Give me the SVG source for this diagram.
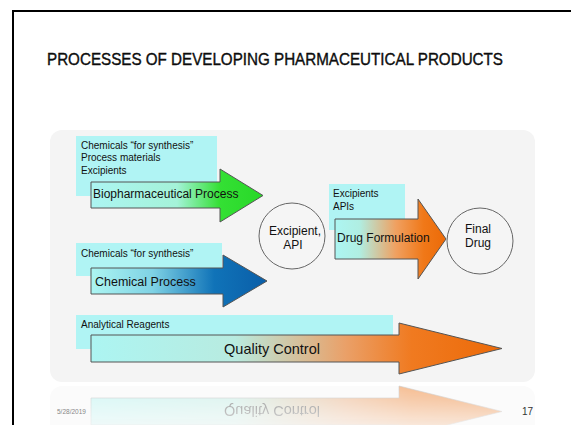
<svg xmlns="http://www.w3.org/2000/svg" width="571" height="425" viewBox="0 0 571 425">
<defs>
<style>
.t{font-family:"Liberation Sans",Arial,sans-serif;fill:#111}
.s{font-size:10px}
.m{font-size:12px}
.box{fill:#b0f4f4}
.arr{stroke:#555;stroke-width:1}
.circ{fill:#fff;fill-opacity:0.15;stroke:#666;stroke-width:1}
</style>
<linearGradient id="gGreen" gradientUnits="userSpaceOnUse" x1="91" y1="0" x2="263" y2="0">
<stop offset="0" stop-color="#acf5f2"/><stop offset="0.5" stop-color="#a4f2d8"/><stop offset="0.75" stop-color="#34e034"/><stop offset="1" stop-color="#28d828"/>
</linearGradient>
<linearGradient id="gBlue" gradientUnits="userSpaceOnUse" x1="91" y1="0" x2="267" y2="0">
<stop offset="0" stop-color="#acf5f2"/><stop offset="0.35" stop-color="#7fd2e4"/><stop offset="0.7" stop-color="#1073b8"/><stop offset="1" stop-color="#0a5ea8"/>
</linearGradient>
<linearGradient id="gOrange" gradientUnits="userSpaceOnUse" x1="335" y1="0" x2="446" y2="0">
<stop offset="0" stop-color="#acf5f2"/><stop offset="0.22" stop-color="#b0eee2"/><stop offset="0.55" stop-color="#f0a060"/><stop offset="0.8" stop-color="#f07818"/><stop offset="1" stop-color="#ec6a08"/>
</linearGradient>
<linearGradient id="gQC" gradientUnits="userSpaceOnUse" x1="91" y1="0" x2="502" y2="0">
<stop offset="0" stop-color="#acf5f2"/><stop offset="0.35" stop-color="#b8ebe0"/><stop offset="0.62" stop-color="#eaa068"/><stop offset="0.78" stop-color="#f07a20"/><stop offset="1" stop-color="#ec6a08"/>
</linearGradient>
<linearGradient id="gFade" gradientUnits="userSpaceOnUse" x1="0" y1="384" x2="0" y2="425">
<stop offset="0" stop-color="#fff" stop-opacity="0.5"/><stop offset="1" stop-color="#fff" stop-opacity="0.15"/>
</linearGradient>
<mask id="mFade" maskUnits="userSpaceOnUse" x="0" y="380" width="571" height="45">
<rect x="0" y="380" width="571" height="45" fill="url(#gFade)"/>
</mask>
</defs>
<rect width="571" height="425" fill="#fff"/>
<rect x="13" y="11" width="600" height="450" fill="none" stroke="#000" stroke-width="2"/>
<text class="t" x="47" y="65" font-size="16.5" fill="#000" stroke="#000" stroke-width="0.35" textLength="456" lengthAdjust="spacingAndGlyphs">PROCESSES OF DEVELOPING PHARMACEUTICAL PRODUCTS</text>
<rect x="50" y="130" width="485" height="252" rx="12" fill="#f4f4f4"/>
<rect x="50" y="386" width="485" height="60" rx="12" fill="#fbfbfb"/>
<g id="connectors">
<g id="bio">
<rect class="box" x="76" y="136" width="141" height="60"/>
<text class="t s" x="81" y="149">Chemicals “for synthesis”</text>
<text class="t s" x="81" y="161">Process materials</text>
<text class="t s" x="81" y="174">Excipients</text>
<path class="arr" d="M91 182H220V169L263 195.5L220 222V208H91Z" fill="url(#gGreen)"/>
<text class="t m" x="93" y="198">Biopharmaceutical Process</text>
</g>
<g id="chem">
<rect class="box" x="76" y="243" width="146" height="33"/>
<text class="t s" x="81" y="257">Chemicals “for synthesis”</text>
<path class="arr" d="M91 268H223V255L267 281L223 307V294H91Z" fill="url(#gBlue)"/>
<text class="t" x="95" y="285.5" font-size="12.5">Chemical Process</text>
</g>
<g id="form">
<rect class="box" x="329" y="184" width="76" height="46"/>
<text class="t s" x="333" y="197">Excipients</text>
<text class="t s" x="333" y="210">APIs</text>
<path class="arr" d="M335 219H418V199L446 239L418 279V259H335Z" fill="url(#gOrange)"/>
<text class="t m" x="337" y="241.5">Drug Formulation</text>
</g>
<g id="qc">
<rect class="box" x="76" y="315" width="317" height="34"/>
<text class="t s" x="81" y="328">Analytical Reagents</text>
<path class="arr" d="M91 335H399V323L502 348.5L399 374V362H91Z" fill="url(#gQC)"/>
<text class="t" x="272" y="354" font-size="14.5" text-anchor="middle">Quality Control</text>
</g>
</g>
<g id="api">
<circle class="circ" cx="292" cy="236" r="33"/>
<text class="t m" x="295" y="235" text-anchor="middle">Excipient,</text>
<text class="t m" x="293" y="248.5" text-anchor="middle">API</text>
</g>
<g id="final">
<circle class="circ" cx="480" cy="241" r="33"/>
<text class="t m" x="478" y="233" text-anchor="middle">Final</text>
<text class="t m" x="478" y="247" text-anchor="middle">Drug</text>
</g>
<g id="reflection" mask="url(#mFade)">
<g transform="translate(0,760) scale(1,-1)">
<path d="M91 335H399V323L502 348.5L399 374V362H91Z" fill="url(#gQC)" stroke="#999" stroke-width="0.6"/>
<text class="t" x="272" y="354" font-size="14.5" text-anchor="middle" fill="#222">Quality Control</text>
</g>
</g>
<text x="57" y="414" font-family="Liberation Sans,Arial,sans-serif" font-size="6.5" fill="#888">5/28/2019</text>
<text x="522" y="415" font-family="Liberation Sans,Arial,sans-serif" font-size="10" fill="#333">17</text>
</svg>
